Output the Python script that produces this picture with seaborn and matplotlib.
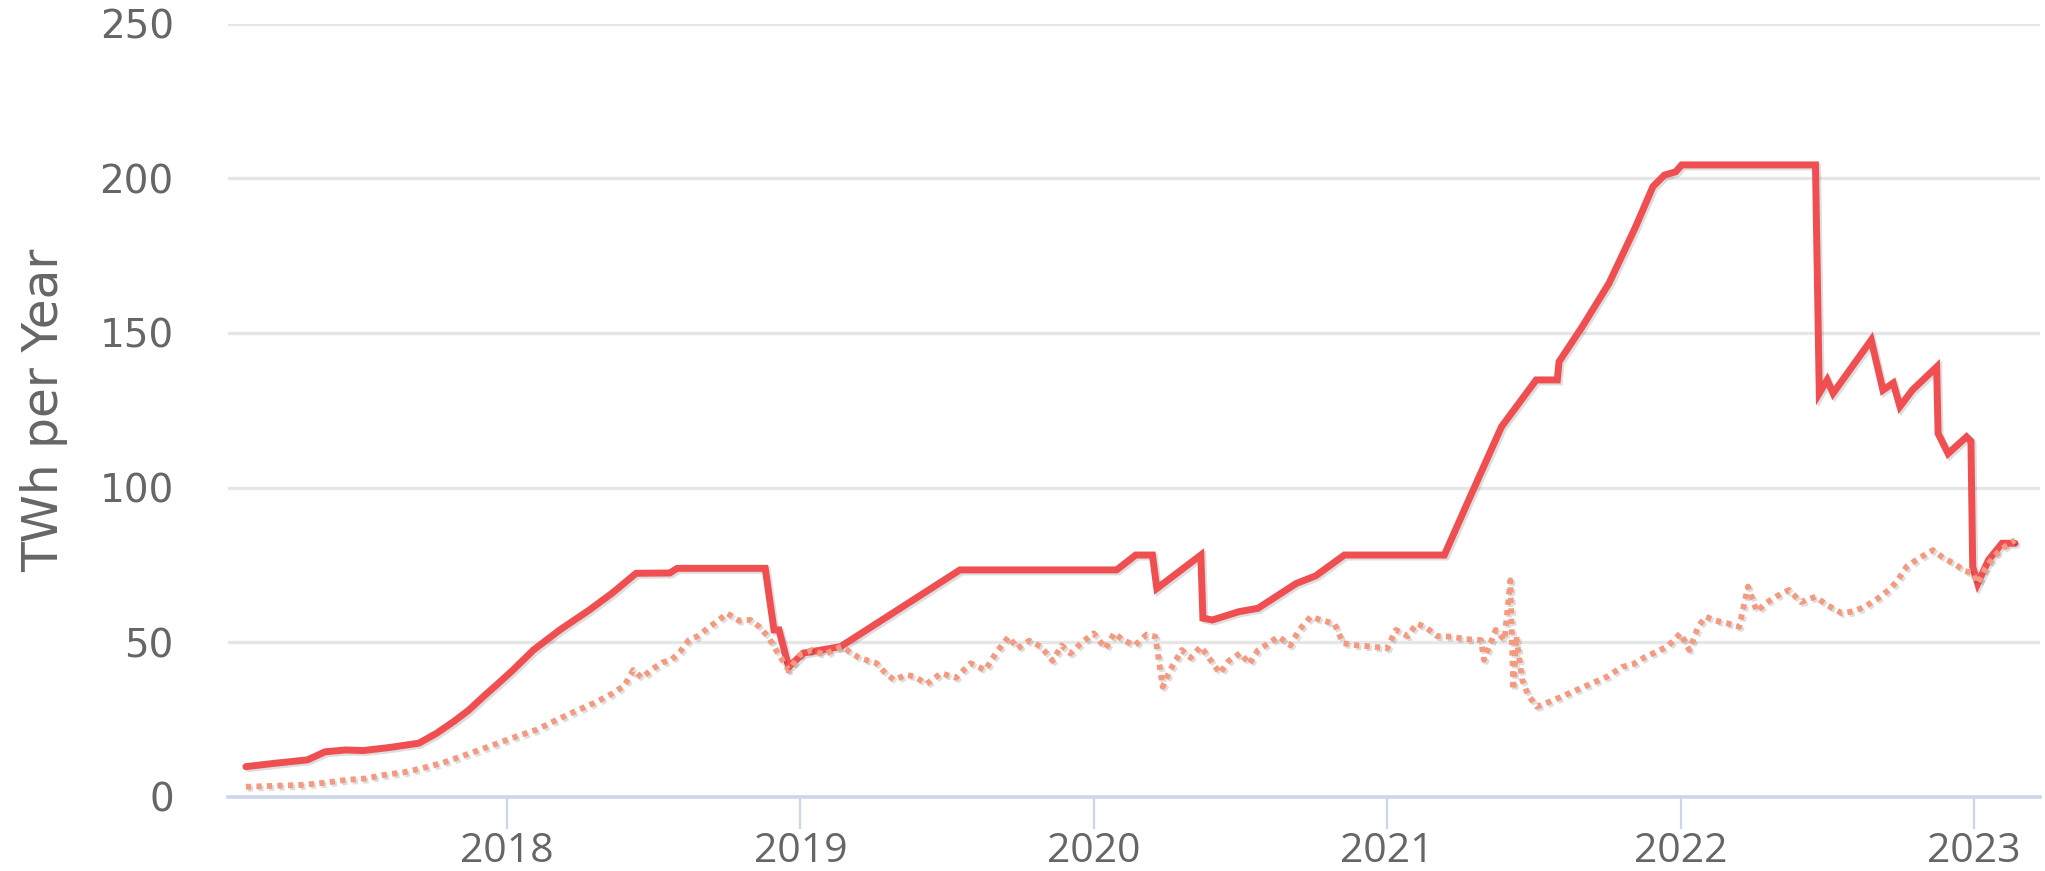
"""Bitcoin energy consumption chart: maximum vs estimated TWh per year"""

import matplotlib
matplotlib.use("Agg")
import matplotlib.pyplot as plt
import matplotlib.patheffects as pe
import seaborn as sns

# Maximum consumption (solid red line), decimal years / TWh
max_year = [2017.11, 2017.20, 2017.32, 2017.38, 2017.45, 2017.51, 2017.60, 2017.70,
            2017.76, 2017.82, 2017.87, 2017.92, 2017.97, 2018.02, 2018.09, 2018.18,
            2018.28, 2018.36, 2018.44, 2018.555, 2018.58, 2018.88, 2018.91, 2018.927,
            2018.96, 2019.01, 2019.137, 2019.544, 2020.078, 2020.143, 2020.20, 2020.215,
            2020.365, 2020.372, 2020.404, 2020.495, 2020.56, 2020.69, 2020.757, 2020.854,
            2021.195, 2021.273, 2021.39, 2021.508, 2021.58, 2021.586, 2021.665, 2021.756,
            2021.847, 2021.906, 2021.945, 2021.984, 2022.004, 2022.46, 2022.473, 2022.50,
            2022.52, 2022.65, 2022.69, 2022.725, 2022.748, 2022.79, 2022.873, 2022.878,
            2022.912, 2022.975, 2022.99, 2022.996, 2023.013, 2023.05, 2023.096, 2023.14]
max_twh = [9.8, 10.8, 12.0, 14.6, 15.2, 15.0, 16.0, 17.4,
           20.6, 24.5, 28.1, 32.5, 36.7, 41.0, 47.5, 54.0,
           60.4, 66.0, 72.3, 72.4, 73.9, 73.9, 54.0, 54.0,
           42.0, 46.5, 48.6, 73.4, 73.4, 78.2, 78.2, 67.4,
           78.2, 57.8, 57.2, 59.9, 61.0, 69.0, 71.5, 78.2,
           78.2, 94.9, 119.7, 134.8, 134.8, 140.7, 152.0, 166.0,
           184.3, 197.3, 201.0, 202.1, 204.3, 204.3, 130.5, 134.8,
           130.5, 147.7, 131.5, 133.8, 126.2, 131.5, 139.0, 117.5,
           111.0, 116.4, 115.0, 74.4, 69.0, 76.6, 82.0, 82.0]

# Estimated consumption (dotted salmon line)
est_year = [2017.11, 2017.20, 2017.30, 2017.38, 2017.45, 2017.52, 2017.58, 2017.65,
            2017.71, 2017.78, 2017.84, 2017.90, 2017.97, 2018.03, 2018.10, 2018.16,
            2018.23, 2018.30, 2018.36, 2018.40, 2018.43, 2018.46, 2018.49, 2018.53,
            2018.56, 2018.59, 2018.62, 2018.65, 2018.69, 2018.72, 2018.75, 2018.79,
            2018.83, 2018.86, 2018.89, 2018.92, 2018.96, 2019.00, 2019.04, 2019.08,
            2019.14, 2019.20, 2019.26, 2019.29, 2019.32, 2019.36, 2019.39, 2019.43,
            2019.48, 2019.53, 2019.58, 2019.63, 2019.67, 2019.71, 2019.74, 2019.78,
            2019.82, 2019.86, 2019.89, 2019.92, 2019.96, 2020.00, 2020.04, 2020.07,
            2020.10, 2020.14, 2020.18, 2020.21, 2020.235, 2020.26, 2020.30, 2020.33,
            2020.365, 2020.40, 2020.43, 2020.46, 2020.50, 2020.53, 2020.56, 2020.60,
            2020.63, 2020.67, 2020.70, 2020.74, 2020.78, 2020.82, 2020.85, 2020.90,
            2020.95, 2021.00, 2021.03, 2021.07, 2021.10, 2021.13, 2021.17, 2021.22,
            2021.27, 2021.32, 2021.33, 2021.37, 2021.40, 2021.42, 2021.43, 2021.44,
            2021.46, 2021.48, 2021.51, 2021.56, 2021.62, 2021.68, 2021.75, 2021.80,
            2021.84, 2021.88, 2021.92, 2021.955, 2022.00, 2022.03, 2022.06, 2022.085,
            2022.12, 2022.16, 2022.20, 2022.23, 2022.26, 2022.29, 2022.33, 2022.37,
            2022.41, 2022.46, 2022.50, 2022.55, 2022.59, 2022.63, 2022.67, 2022.71,
            2022.74, 2022.77, 2022.81, 2022.86, 2022.90, 2022.93, 2022.97, 2022.995,
            2023.013, 2023.04, 2023.07, 2023.10, 2023.14]
est_twh = [3.3, 3.6, 3.9, 4.6, 5.5, 6.0, 7.1, 8.0,
           9.3, 11.0, 13.0, 15.0, 17.4, 19.5, 21.7, 24.5,
           27.6, 30.5, 33.5, 36.0, 41.0, 38.5, 41.0, 43.5,
           44.3, 47.0, 50.7, 52.0, 55.0, 57.0, 59.4, 57.0,
           57.2, 55.0, 51.8, 47.0, 41.0, 46.0, 47.5, 46.0,
           48.6, 45.0, 43.2, 40.0, 37.8, 39.5, 38.9, 36.5,
           40.0, 38.5, 43.2, 41.0, 47.0, 51.8, 48.0, 50.5,
           48.6, 44.0, 49.0, 46.4, 50.0, 52.9, 48.0, 53.0,
           50.7, 49.0, 52.5, 51.8, 35.6, 41.0, 47.5, 45.0,
           48.6, 44.0, 40.0, 44.0, 46.5, 43.0, 47.5, 50.0,
           51.8, 49.0, 54.0, 58.3, 57.0, 56.1, 49.7, 49.0,
           48.6, 48.0, 54.0, 52.0, 56.0, 55.0, 52.0, 51.8,
           51.0, 50.7, 44.3, 54.0, 50.7, 70.0, 34.6, 52.0,
           38.0, 33.0, 29.2, 31.0, 33.5, 36.0, 38.9, 42.0,
           43.0, 45.3, 47.0, 48.6, 52.9, 47.5, 55.0, 58.3,
           57.0, 56.1, 55.0, 68.0, 60.0, 62.6, 65.0, 66.9,
           63.0, 64.7, 62.0, 59.4, 60.0, 61.6, 64.0, 66.9,
           70.0, 74.4, 77.0, 79.8, 77.0, 75.6, 73.0, 72.4,
           69.0, 74.0, 78.0, 80.5, 83.0]

year_ticks = [2018, 2019, 2020, 2021, 2022, 2023]
twh_ticks = [0, 50, 100, 150, 200, 250]

sns.set_style("white")
plt.rcParams['font.family'] = ['DejaVu Sans']

fig = plt.figure(figsize=(20.45, 8.71), dpi=100)
ax = fig.add_axes([0.1115, 0.085, 0.886, 0.888])

shadow = [pe.SimpleLineShadow(offset=(1.5, -1.5), shadow_color='black', alpha=0.13),
          pe.Normal()]

sns.lineplot(x=max_year, y=max_twh, ax=ax, color='#f04f52', linewidth=5.0,
             sort=False, estimator=None, path_effects=shadow,
             solid_joinstyle='miter')
sns.lineplot(x=est_year, y=est_twh, ax=ax, color='#f39a80', linewidth=4.2,
             sort=False, estimator=None, linestyle=(0, (0.9, 0.9)),
             path_effects=shadow)

ax.set_xlim(2017.049, 2023.225)
ax.set_ylim(0, 250)

ax.set_yticks(twh_ticks)
ax.set_yticklabels([str(v) for v in twh_ticks])
ax.set_xticks(year_ticks)
ax.set_xticklabels([str(y) for y in year_ticks], fontfamily='Open Sans')

ax.grid(axis='y', color='#e6e6e6', linewidth=2.4)
ax.grid(axis='x', visible=False)
ax.set_axisbelow(True)

for side in ['top', 'right', 'left']:
    ax.spines[side].set_visible(False)
ax.spines['bottom'].set_color('#ccd6eb')
ax.spines['bottom'].set_linewidth(2.6)

ax.tick_params(axis='y', left=False, length=0, pad=39, labelsize=28,
               labelcolor='#666666')
ax.tick_params(axis='x', bottom=True, direction='out', length=23, width=1.6,
               color='#ccd6eb', pad=2, labelsize=29.5, labelcolor='#666666')

ax.set_xlabel('')
ax.set_ylabel('TWh per Year', fontsize=35, color='#666666')
ax.yaxis.set_label_coords(-0.088, 0.5)

fig.savefig('out.png', dpi=100)
